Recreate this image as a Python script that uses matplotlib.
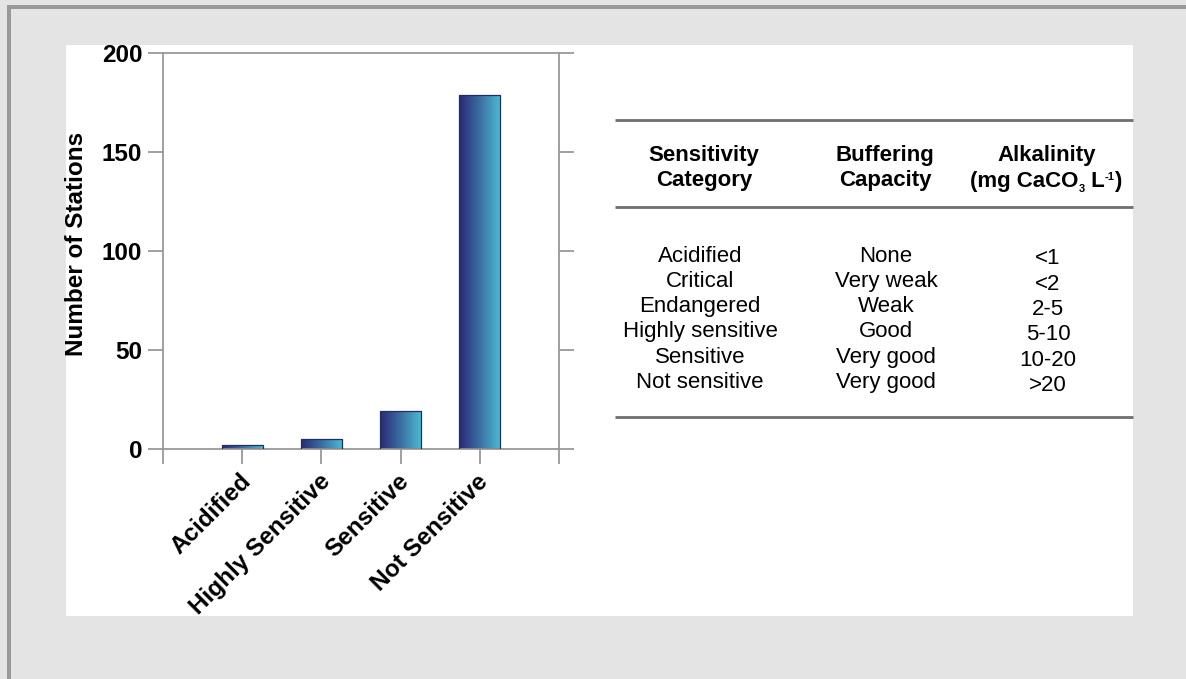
import numpy as np
import matplotlib
matplotlib.use("Agg")
import matplotlib.pyplot as plt
import matplotlib.transforms as mtransforms
from matplotlib.patches import Rectangle
from matplotlib.lines import Line2D
from matplotlib.colors import LinearSegmentedColormap

plt.rcParams['font.family'] = ['Liberation Sans', 'DejaVu Sans']

# ---- data ----
categories = ['Acidified', 'Highly Sensitive', 'Sensitive', 'Not Sensitive']
counts = [2, 5, 19, 179]
y_ticks = [0, 50, 100, 150, 200]

table_header = [['Sensitivity', 'Category'],
                ['Buffering', 'Capacity'],
                ['Alkalinity', None]]
# pieces of the unit header: (text, size scale, vertical shift in px)
unit_pieces = [('(mg CaCO', 1.0, 0), ('3', 0.5, -5), (' L', 1.0, 0), ('-1', 0.5, 7), (')', 1.0, 0)]
table_category = ['Acidified', 'Critical', 'Endangered', 'Highly sensitive',
                  'Sensitive', 'Not sensitive']
table_buffering = ['None', 'Very weak', 'Weak', 'Good', 'Very good', 'Very good']
table_alkalinity = ['<1', '<2', '2-5', '5-10', '10-20', '>20']

W, H = 1186, 679
fig = plt.figure(figsize=(W / 100, H / 100), dpi=100)
fig.patch.set_facecolor('#e4e4e4')

def fx(x):
    return x / W

def fy(y):
    return 1 - y / H

# border bars
fig.patches.append(Rectangle((fx(7), fy(9)), fx(W - 7), 4 / H, transform=fig.transFigure,
                             facecolor='#999999', edgecolor='none', zorder=-5))
fig.patches.append(Rectangle((fx(7), 0), 4 / W, fy(5), transform=fig.transFigure,
                             facecolor='#999999', edgecolor='none', zorder=-5))
# white panel
fig.patches.append(Rectangle((fx(66), fy(616)), (1133 - 66) / W, (616 - 45) / H,
                             transform=fig.transFigure, facecolor='white',
                             edgecolor='none', zorder=-5))

# ---- bar chart ----
ax_l, ax_r, ax_t, ax_b = 163, 559, 53, 449
ax = fig.add_axes([fx(ax_l), fy(ax_b), (ax_r - ax_l) / W, (ax_b - ax_t) / H])
ax.set_facecolor('none')
ax.set_zorder(2)

cmap = LinearSegmentedColormap.from_list('g', ['#2a2876', '#3c6fa3', '#4cbcd2'])
x = np.arange(len(categories))
bars = ax.bar(x, counts, width=0.52, facecolor='none', edgecolor='#1f3060',
              linewidth=0.9, zorder=3)
grad = np.linspace(0, 1, 256).reshape(1, -1)
for b in bars:
    x0, y0 = b.get_x(), b.get_y()
    im = ax.imshow(grad, extent=[x0, x0 + b.get_width(), y0, y0 + b.get_height()],
                   aspect='auto', cmap=cmap, zorder=2, interpolation='bicubic')
    im.set_clip_path(b)

ax.set_xlim(-1, 4)
ax.set_ylim(0, 200)
ax.set_yticks(y_ticks)
ax.set_yticklabels([str(v) for v in y_ticks], fontsize=17.5, fontweight='bold')
ax.set_xticks(np.arange(-1, 5))
ax.set_xticklabels([])
# category labels, placed at the category positions with a small pixel offset
shift = mtransforms.ScaledTranslation(-3 / 100, -21 / 100, fig.dpi_scale_trans)
for xi, cat in zip(x, categories):
    ax.text(xi, 0, cat, transform=ax.get_xaxis_transform() + shift,
            fontsize=17.5, fontweight='bold', rotation=45, ha='right', va='top',
            rotation_mode='anchor', clip_on=False)
ax.tick_params(axis='y', which='both', direction='out', length=11, width=1.3,
               color='#999999', left=True, right=True, pad=4)
ax.tick_params(axis='x', direction='out', length=11, width=1.3, color='#999999')
for s in ax.spines.values():
    s.set_color('#999999')
    s.set_linewidth(1.3)
ax.set_ylabel('Number of Stations', fontsize=17.5, fontweight='bold')
ax.yaxis.set_label_coords((88 - ax_l) / (ax_r - ax_l), (ax_b - 244) / (ax_b - ax_t))

# ---- table ----
line_kw = dict(color='#6e6e6e', linewidth=2, transform=fig.transFigure,
               solid_capstyle='butt')
for yy in (120, 207, 417):
    fig.add_artist(Line2D([fx(615), fx(1133)], [fy(yy), fy(yy)], **line_kw))

FS = 16
col_x = [704, 885, 1047]
for cx, (l1, l2) in zip(col_x, table_header):
    fig.text(fx(cx), fy(155), l1, ha='center', va='center', fontsize=FS, fontweight='bold')
    if l2 is not None:
        fig.text(fx(cx), fy(181), l2, ha='center', va='center', fontsize=FS,
                 fontweight='bold')

# composite unit header with small sub/superscript
renderer = fig.canvas.get_renderer()
widths = []
for txt, sc, dy in unit_pieces:
    t = fig.text(0, 0, txt, fontsize=FS * sc, fontweight='bold')
    widths.append(t.get_window_extent(renderer).width)
    t.remove()
xpos = 1046 - sum(widths) / 2
base_y = 187
for (txt, sc, dy), w in zip(unit_pieces, widths):
    fig.text(fx(xpos), fy(base_y - dy), txt, ha='left', va='baseline',
             fontsize=FS * sc, fontweight='bold')
    xpos += w

row_y0, row_dy = 256, 25.3
for i, (c, bcap, alk) in enumerate(zip(table_category, table_buffering, table_alkalinity)):
    yy = row_y0 + i * row_dy
    fig.text(fx(700), fy(yy), c, ha='center', va='center', fontsize=FS)
    fig.text(fx(886), fy(yy), bcap, ha='center', va='center', fontsize=FS)
    fig.text(fx(1048), fy(yy + 3), alk, ha='center', va='center', fontsize=FS)

fig.savefig('out.png', dpi=100, facecolor=fig.get_facecolor())
